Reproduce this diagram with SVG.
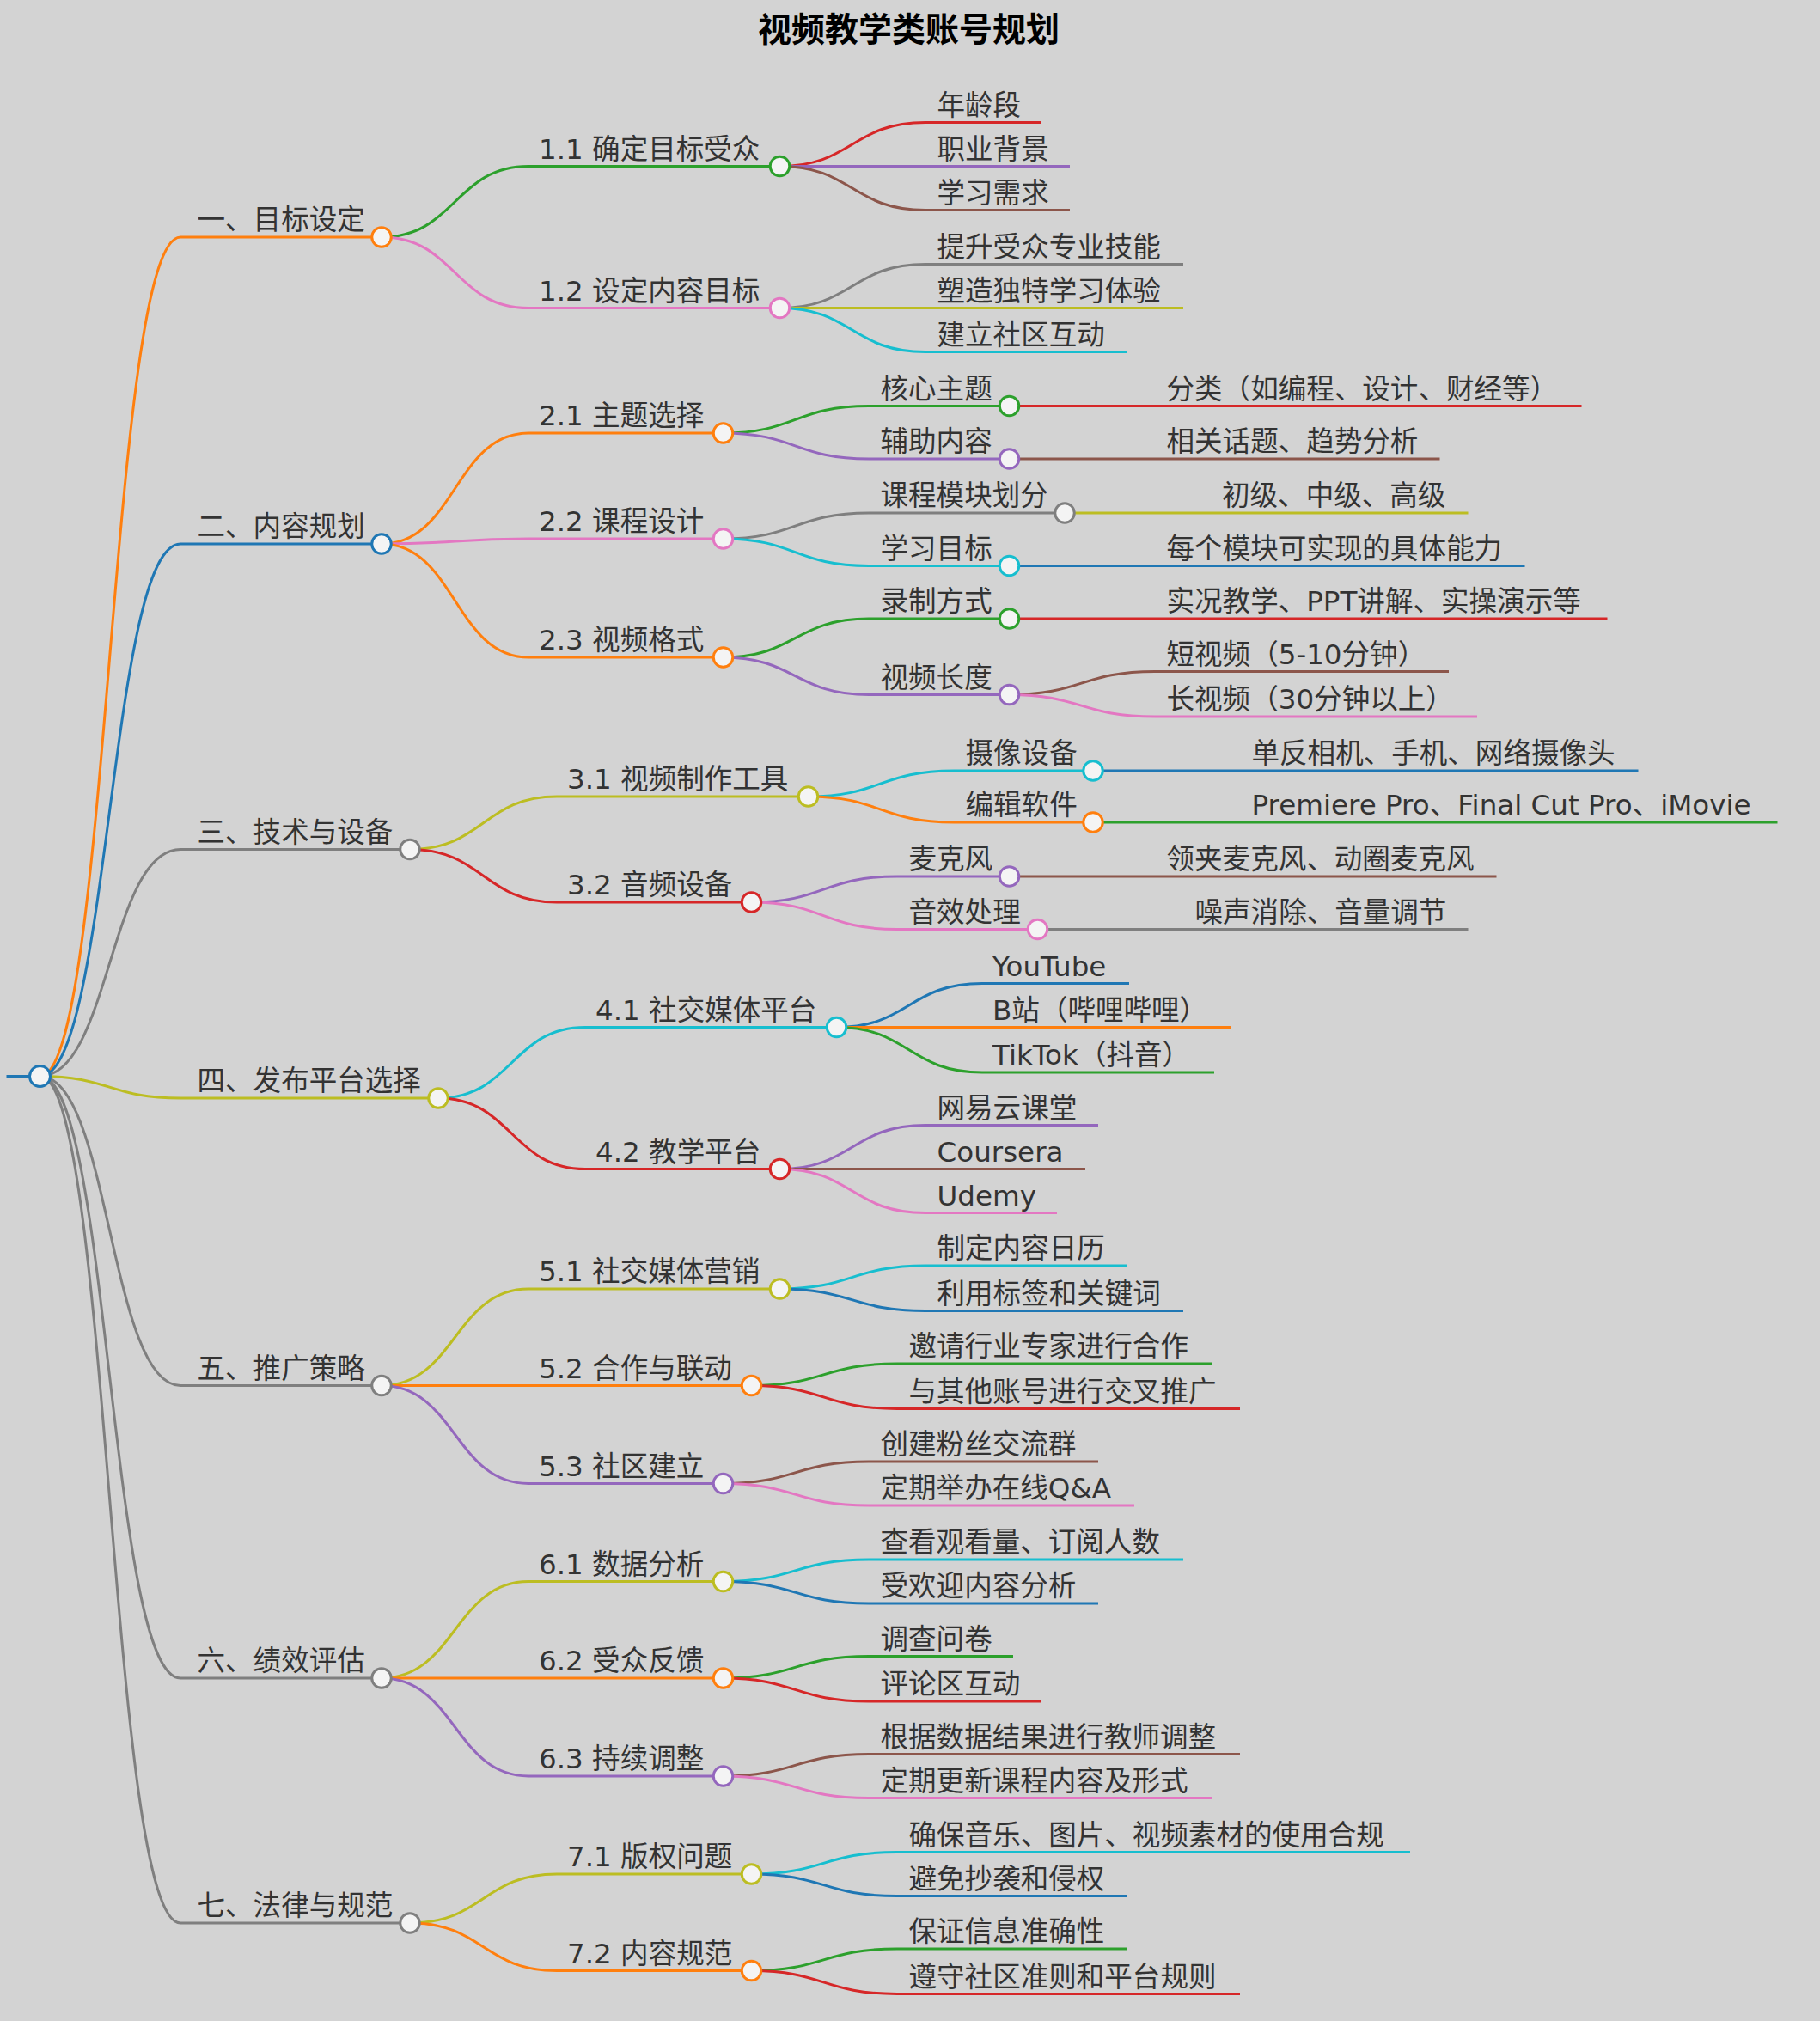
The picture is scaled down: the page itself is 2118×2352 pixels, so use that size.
<svg xmlns="http://www.w3.org/2000/svg" width="2118" height="2352" viewBox="0 0 2118 2352">
<style>
text{font-family:"DejaVu Sans","Noto Sans CJK SC",sans-serif;font-size:21.7px;fill:#333}
.t{font-size:26px;font-weight:bold;fill:#000;text-anchor:middle}
path,line{fill:none;stroke-width:2}
circle{fill:#f4f4f4;stroke-width:2}
.bl{stroke:#1f77b4}.or{stroke:#ff7f0e}.gr{stroke:#2ca02c}.rd{stroke:#d62728}.pu{stroke:#9467bd}.br{stroke:#8c564b}.pk{stroke:#e377c2}.gy{stroke:#7f7f7f}.ol{stroke:#bcbd22}.cy{stroke:#17becf}
</style>
<rect width="2118" height="2352" fill="#d3d3d3"/>
<g transform="scale(1.5)">
<text class="t" x="705" y="32">视频教学类账号规划</text>
<g id="connectors">
<line class="bl" x1="5" y1="835" x2="31" y2="835"/>
<path class="or" d="M31,835C85,835 85,184 140,184"/>
<path class="bl" d="M31,835C85,835 85,422 140,422"/>
<path class="gy" d="M31,835C85,835 85,659 140,659"/>
<path class="ol" d="M31,835C85,835 85,852 140,852"/>
<path class="gy" d="M31,835C85,835 85,1075 140,1075"/>
<path class="gy" d="M31,835C85,835 85,1302 140,1302"/>
<path class="gy" d="M31,835C85,835 85,1492 140,1492"/>
<path class="gr" d="M296,184C353,184 353,129 410,129"/>
<path class="pk" d="M296,184C353,184 353,239 410,239"/>
<path class="or" d="M296,422C353,422 353,336 410,336"/>
<path class="pk" d="M296,422C353,422 353,418 410,418"/>
<path class="or" d="M296,422C353,422 353,510 410,510"/>
<path class="ol" d="M318,659C375,659 375,618 432,618"/>
<path class="rd" d="M318,659C375,659 375,700 432,700"/>
<path class="cy" d="M340,852C397,852 397,797 454,797"/>
<path class="rd" d="M340,852C397,852 397,907 454,907"/>
<path class="ol" d="M296,1075C353,1075 353,1000 410,1000"/>
<path class="or" d="M296,1075C353,1075 353,1075 410,1075"/>
<path class="pu" d="M296,1075C353,1075 353,1151 410,1151"/>
<path class="ol" d="M296,1302C353,1302 353,1227 410,1227"/>
<path class="or" d="M296,1302C353,1302 353,1302 410,1302"/>
<path class="pu" d="M296,1302C353,1302 353,1378 410,1378"/>
<path class="ol" d="M318,1492C375,1492 375,1454 432,1454"/>
<path class="or" d="M318,1492C375,1492 375,1529 432,1529"/>
<path class="rd" d="M605,129C661,129 661,95 718,95"/>
<path class="pu" d="M605,129C661,129 661,129 718,129"/>
<path class="br" d="M605,129C661,129 661,163 718,163"/>
<path class="gy" d="M605,239C661,239 661,205 718,205"/>
<path class="ol" d="M605,239C661,239 661,239 718,239"/>
<path class="cy" d="M605,239C661,239 661,273 718,273"/>
<path class="gr" d="M561,336C617,336 617,315 674,315"/>
<path class="pu" d="M561,336C617,336 617,356 674,356"/>
<path class="gy" d="M561,418C617,418 617,398 674,398"/>
<path class="cy" d="M561,418C617,418 617,439 674,439"/>
<path class="gr" d="M561,510C617,510 617,480 674,480"/>
<path class="pu" d="M561,510C617,510 617,539 674,539"/>
<path class="cy" d="M627,618C683,618 683,598 740,598"/>
<path class="or" d="M627,618C683,618 683,638 740,638"/>
<path class="pu" d="M583,700C639,700 639,680 696,680"/>
<path class="pk" d="M583,700C639,700 639,721 696,721"/>
<path class="bl" d="M649,797C705,797 705,763 762,763"/>
<path class="or" d="M649,797C705,797 705,797 762,797"/>
<path class="gr" d="M649,797C705,797 705,832 762,832"/>
<path class="pu" d="M605,907C661,907 661,873 718,873"/>
<path class="br" d="M605,907C661,907 661,907 718,907"/>
<path class="pk" d="M605,907C661,907 661,941 718,941"/>
<path class="cy" d="M605,1000C661,1000 661,982 718,982"/>
<path class="bl" d="M605,1000C661,1000 661,1017 718,1017"/>
<path class="gr" d="M583,1075C639,1075 639,1058 696,1058"/>
<path class="rd" d="M583,1075C639,1075 639,1093 696,1093"/>
<path class="br" d="M561,1151C617,1151 617,1134 674,1134"/>
<path class="pk" d="M561,1151C617,1151 617,1168 674,1168"/>
<path class="cy" d="M561,1227C617,1227 617,1210 674,1210"/>
<path class="bl" d="M561,1227C617,1227 617,1244 674,1244"/>
<path class="gr" d="M561,1302C617,1302 617,1285 674,1285"/>
<path class="rd" d="M561,1302C617,1302 617,1320 674,1320"/>
<path class="br" d="M561,1378C617,1378 617,1361 674,1361"/>
<path class="pk" d="M561,1378C617,1378 617,1395 674,1395"/>
<path class="cy" d="M583,1454C639,1454 639,1437 696,1437"/>
<path class="bl" d="M583,1454C639,1454 639,1471 696,1471"/>
<path class="gr" d="M583,1529C639,1529 639,1512 696,1512"/>
<path class="rd" d="M583,1529C639,1529 639,1547 696,1547"/>
<line class="rd" x1="783" y1="315" x2="896" y2="315"/>
<line class="br" x1="783" y1="356" x2="896" y2="356"/>
<line class="ol" x1="826" y1="398" x2="940" y2="398"/>
<line class="bl" x1="783" y1="439" x2="896" y2="439"/>
<line class="rd" x1="783" y1="480" x2="896" y2="480"/>
<path class="br" d="M783,539C839,539 839,521 896,521"/>
<path class="pk" d="M783,539C839,539 839,556 896,556"/>
<line class="bl" x1="848" y1="598" x2="962" y2="598"/>
<line class="gr" x1="848" y1="638" x2="962" y2="638"/>
<line class="br" x1="783" y1="680" x2="896" y2="680"/>
<line class="gy" x1="805" y1="721" x2="918" y2="721"/>
</g>
<g id="root"><circle class="bl" cx="31" cy="835" r="8"/></g>
<g id="n1"><line class="or" x1="140" y1="184" x2="296" y2="184"/><text x="153" y="178">一、目标设定</text><circle class="or" cx="296" cy="184" r="7.5"/></g>
<g id="n2"><line class="bl" x1="140" y1="422" x2="296" y2="422"/><text x="153" y="416">二、内容规划</text><circle class="bl" cx="296" cy="422" r="7.5"/></g>
<g id="n3"><line class="gy" x1="140" y1="659" x2="318" y2="659"/><text x="153" y="653">三、技术与设备</text><circle class="gy" cx="318" cy="659" r="7.5"/></g>
<g id="n4"><line class="ol" x1="140" y1="852" x2="340" y2="852"/><text x="153" y="846">四、发布平台选择</text><circle class="ol" cx="340" cy="852" r="7.5"/></g>
<g id="n5"><line class="gy" x1="140" y1="1075" x2="296" y2="1075"/><text x="153" y="1069">五、推广策略</text><circle class="gy" cx="296" cy="1075" r="7.5"/></g>
<g id="n6"><line class="gy" x1="140" y1="1302" x2="296" y2="1302"/><text x="153" y="1296">六、绩效评估</text><circle class="gy" cx="296" cy="1302" r="7.5"/></g>
<g id="n7"><line class="gy" x1="140" y1="1492" x2="318" y2="1492"/><text x="153" y="1486">七、法律与规范</text><circle class="gy" cx="318" cy="1492" r="7.5"/></g>
<g id="n11"><line class="gr" x1="410" y1="129" x2="605" y2="129"/><text x="418" y="123">1.1 确定目标受众</text><circle class="gr" cx="605" cy="129" r="7.5"/></g>
<g id="n12"><line class="pk" x1="410" y1="239" x2="605" y2="239"/><text x="418" y="233">1.2 设定内容目标</text><circle class="pk" cx="605" cy="239" r="7.5"/></g>
<g id="n21"><line class="or" x1="410" y1="336" x2="561" y2="336"/><text x="418" y="330">2.1 主题选择</text><circle class="or" cx="561" cy="336" r="7.5"/></g>
<g id="n22"><line class="pk" x1="410" y1="418" x2="561" y2="418"/><text x="418" y="412">2.2 课程设计</text><circle class="pk" cx="561" cy="418" r="7.5"/></g>
<g id="n23"><line class="or" x1="410" y1="510" x2="561" y2="510"/><text x="418" y="504">2.3 视频格式</text><circle class="or" cx="561" cy="510" r="7.5"/></g>
<g id="n31"><line class="ol" x1="432" y1="618" x2="627" y2="618"/><text x="440" y="612">3.1 视频制作工具</text><circle class="ol" cx="627" cy="618" r="7.5"/></g>
<g id="n32"><line class="rd" x1="432" y1="700" x2="583" y2="700"/><text x="440" y="694">3.2 音频设备</text><circle class="rd" cx="583" cy="700" r="7.5"/></g>
<g id="n41"><line class="cy" x1="454" y1="797" x2="649" y2="797"/><text x="462" y="791">4.1 社交媒体平台</text><circle class="cy" cx="649" cy="797" r="7.5"/></g>
<g id="n42"><line class="rd" x1="454" y1="907" x2="605" y2="907"/><text x="462" y="901">4.2 教学平台</text><circle class="rd" cx="605" cy="907" r="7.5"/></g>
<g id="n51"><line class="ol" x1="410" y1="1000" x2="605" y2="1000"/><text x="418" y="994">5.1 社交媒体营销</text><circle class="ol" cx="605" cy="1000" r="7.5"/></g>
<g id="n52"><line class="or" x1="410" y1="1075" x2="583" y2="1075"/><text x="418" y="1069">5.2 合作与联动</text><circle class="or" cx="583" cy="1075" r="7.5"/></g>
<g id="n53"><line class="pu" x1="410" y1="1151" x2="561" y2="1151"/><text x="418" y="1145">5.3 社区建立</text><circle class="pu" cx="561" cy="1151" r="7.5"/></g>
<g id="n61"><line class="ol" x1="410" y1="1227" x2="561" y2="1227"/><text x="418" y="1221">6.1 数据分析</text><circle class="ol" cx="561" cy="1227" r="7.5"/></g>
<g id="n62"><line class="or" x1="410" y1="1302" x2="561" y2="1302"/><text x="418" y="1296">6.2 受众反馈</text><circle class="or" cx="561" cy="1302" r="7.5"/></g>
<g id="n63"><line class="pu" x1="410" y1="1378" x2="561" y2="1378"/><text x="418" y="1372">6.3 持续调整</text><circle class="pu" cx="561" cy="1378" r="7.5"/></g>
<g id="n71"><line class="ol" x1="432" y1="1454" x2="583" y2="1454"/><text x="440" y="1448">7.1 版权问题</text><circle class="ol" cx="583" cy="1454" r="7.5"/></g>
<g id="n72"><line class="or" x1="432" y1="1529" x2="583" y2="1529"/><text x="440" y="1523">7.2 内容规范</text><circle class="or" cx="583" cy="1529" r="7.5"/></g>
<g id="l111"><line class="rd" x1="718" y1="95" x2="808" y2="95"/><text x="727" y="89">年龄段</text></g>
<g id="l112"><line class="pu" x1="718" y1="129" x2="830" y2="129"/><text x="727" y="123">职业背景</text></g>
<g id="l113"><line class="br" x1="718" y1="163" x2="830" y2="163"/><text x="727" y="157">学习需求</text></g>
<g id="l121"><line class="gy" x1="718" y1="205" x2="918" y2="205"/><text x="727" y="199">提升受众专业技能</text></g>
<g id="l122"><line class="ol" x1="718" y1="239" x2="918" y2="239"/><text x="727" y="233">塑造独特学习体验</text></g>
<g id="l123"><line class="cy" x1="718" y1="273" x2="874" y2="273"/><text x="727" y="267">建立社区互动</text></g>
<g id="n211"><line class="gr" x1="674" y1="315" x2="783" y2="315"/><text x="683" y="309">核心主题</text><circle class="gr" cx="783" cy="315" r="7.5"/></g>
<g id="n212"><line class="pu" x1="674" y1="356" x2="783" y2="356"/><text x="683" y="350">辅助内容</text><circle class="pu" cx="783" cy="356" r="7.5"/></g>
<g id="n221"><line class="gy" x1="674" y1="398" x2="826" y2="398"/><text x="683" y="392">课程模块划分</text><circle class="gy" cx="826" cy="398" r="7.5"/></g>
<g id="n222"><line class="cy" x1="674" y1="439" x2="783" y2="439"/><text x="683" y="433">学习目标</text><circle class="cy" cx="783" cy="439" r="7.5"/></g>
<g id="n231"><line class="gr" x1="674" y1="480" x2="783" y2="480"/><text x="683" y="474">录制方式</text><circle class="gr" cx="783" cy="480" r="7.5"/></g>
<g id="n232"><line class="pu" x1="674" y1="539" x2="783" y2="539"/><text x="683" y="533">视频长度</text><circle class="pu" cx="783" cy="539" r="7.5"/></g>
<g id="l2111"><line class="rd" x1="896" y1="315" x2="1227" y2="315"/><text x="905" y="309">分类（如编程、设计、财经等）</text></g>
<g id="l2121"><line class="br" x1="896" y1="356" x2="1117" y2="356"/><text x="905" y="350">相关话题、趋势分析</text></g>
<g id="l2211"><line class="ol" x1="940" y1="398" x2="1139" y2="398"/><text x="948" y="392">初级、中级、高级</text></g>
<g id="l2221"><line class="bl" x1="896" y1="439" x2="1183" y2="439"/><text x="905" y="433">每个模块可实现的具体能力</text></g>
<g id="l2311"><line class="rd" x1="896" y1="480" x2="1247" y2="480"/><text x="905" y="474">实况教学、PPT讲解、实操演示等</text></g>
<g id="l2321"><line class="br" x1="896" y1="521" x2="1124" y2="521"/><text x="905" y="515">短视频（5-10分钟）</text></g>
<g id="l2322"><line class="pk" x1="896" y1="556" x2="1146" y2="556"/><text x="905" y="550">长视频（30分钟以上）</text></g>
<g id="n311"><line class="cy" x1="740" y1="598" x2="848" y2="598"/><text x="749" y="592">摄像设备</text><circle class="cy" cx="848" cy="598" r="7.5"/></g>
<g id="n312"><line class="or" x1="740" y1="638" x2="848" y2="638"/><text x="749" y="632">编辑软件</text><circle class="or" cx="848" cy="638" r="7.5"/></g>
<g id="n321"><line class="pu" x1="696" y1="680" x2="783" y2="680"/><text x="705" y="674">麦克风</text><circle class="pu" cx="783" cy="680" r="7.5"/></g>
<g id="n322"><line class="pk" x1="696" y1="721" x2="805" y2="721"/><text x="705" y="715">音效处理</text><circle class="pk" cx="805" cy="721" r="7.5"/></g>
<g id="l3111"><line class="bl" x1="962" y1="598" x2="1271" y2="598"/><text x="971" y="592">单反相机、手机、网络摄像头</text></g>
<g id="l3121"><line class="gr" x1="962" y1="638" x2="1379" y2="638"/><text x="971" y="632">Premiere Pro、Final Cut Pro、iMovie</text></g>
<g id="l3211"><line class="br" x1="896" y1="680" x2="1161" y2="680"/><text x="905" y="674">领夹麦克风、动圈麦克风</text></g>
<g id="l3221"><line class="gy" x1="918" y1="721" x2="1139" y2="721"/><text x="927" y="715">噪声消除、音量调节</text></g>
<g id="l411"><line class="bl" x1="762" y1="763" x2="876" y2="763"/><text x="770" y="757">YouTube</text></g>
<g id="l412"><line class="or" x1="762" y1="797" x2="955" y2="797"/><text x="770" y="791">B站（哔哩哔哩）</text></g>
<g id="l413"><line class="gr" x1="762" y1="832" x2="942" y2="832"/><text x="770" y="826">TikTok（抖音）</text></g>
<g id="l421"><line class="pu" x1="718" y1="873" x2="852" y2="873"/><text x="727" y="867">网易云课堂</text></g>
<g id="l422"><line class="br" x1="718" y1="907" x2="842" y2="907"/><text x="727" y="901">Coursera</text></g>
<g id="l423"><line class="pk" x1="718" y1="941" x2="820" y2="941"/><text x="727" y="935">Udemy</text></g>
<g id="l511"><line class="cy" x1="718" y1="982" x2="874" y2="982"/><text x="727" y="976">制定内容日历</text></g>
<g id="l512"><line class="bl" x1="718" y1="1017" x2="918" y2="1017"/><text x="727" y="1011">利用标签和关键词</text></g>
<g id="l521"><line class="gr" x1="696" y1="1058" x2="940" y2="1058"/><text x="705" y="1052">邀请行业专家进行合作</text></g>
<g id="l522"><line class="rd" x1="696" y1="1093" x2="962" y2="1093"/><text x="705" y="1087">与其他账号进行交叉推广</text></g>
<g id="l531"><line class="br" x1="674" y1="1134" x2="852" y2="1134"/><text x="683" y="1128">创建粉丝交流群</text></g>
<g id="l532"><line class="pk" x1="674" y1="1168" x2="880" y2="1168"/><text x="683" y="1162">定期举办在线Q&amp;A</text></g>
<g id="l611"><line class="cy" x1="674" y1="1210" x2="918" y2="1210"/><text x="683" y="1204">查看观看量、订阅人数</text></g>
<g id="l612"><line class="bl" x1="674" y1="1244" x2="852" y2="1244"/><text x="683" y="1238">受欢迎内容分析</text></g>
<g id="l621"><line class="gr" x1="674" y1="1285" x2="786" y2="1285"/><text x="683" y="1279">调查问卷</text></g>
<g id="l622"><line class="rd" x1="674" y1="1320" x2="808" y2="1320"/><text x="683" y="1314">评论区互动</text></g>
<g id="l631"><line class="br" x1="674" y1="1361" x2="962" y2="1361"/><text x="683" y="1355">根据数据结果进行教师调整</text></g>
<g id="l632"><line class="pk" x1="674" y1="1395" x2="940" y2="1395"/><text x="683" y="1389">定期更新课程内容及形式</text></g>
<g id="l711"><line class="cy" x1="696" y1="1437" x2="1094" y2="1437"/><text x="705" y="1431">确保音乐、图片、视频素材的使用合规</text></g>
<g id="l712"><line class="bl" x1="696" y1="1471" x2="874" y2="1471"/><text x="705" y="1465">避免抄袭和侵权</text></g>
<g id="l721"><line class="gr" x1="696" y1="1512" x2="874" y2="1512"/><text x="705" y="1506">保证信息准确性</text></g>
<g id="l722"><line class="rd" x1="696" y1="1547" x2="962" y2="1547"/><text x="705" y="1541">遵守社区准则和平台规则</text></g>
</g>
</svg>
